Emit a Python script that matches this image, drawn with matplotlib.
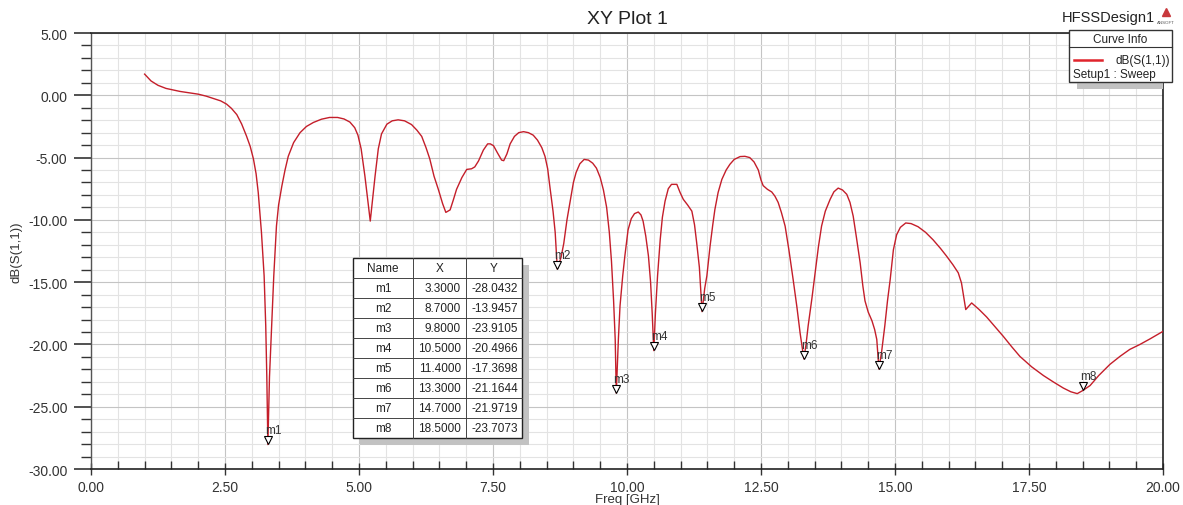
import numpy as np
import matplotlib
matplotlib.use("Agg")
import matplotlib.pyplot as plt
from matplotlib.patches import Rectangle
from matplotlib.ticker import MultipleLocator, FormatStrFormatter
import matplotlib.transforms as mtransforms

plt.rcParams['font.family'] = ['Liberation Sans', 'DejaVu Sans']

# dB(S(1,1))
freq = [1.00, 1.12, 1.25, 1.40, 1.66, 2.00, 2.15, 2.28, 2.42, 2.53, 2.62, 2.72, 2.81, 2.90,
        2.97, 3.03, 3.08, 3.12, 3.18, 3.23, 3.26, 3.28, 3.30, 3.33, 3.37, 3.41, 3.46, 3.50,
        3.56, 3.62, 3.68, 3.78, 3.90, 4.02, 4.15, 4.30, 4.45, 4.60, 4.72, 4.83, 4.92, 4.98,
        5.04, 5.11, 5.21, 5.30, 5.36, 5.42, 5.52, 5.62, 5.73, 5.85, 5.98, 6.08, 6.17, 6.25,
        6.32, 6.40, 6.48, 6.56, 6.62, 6.70, 6.76, 6.82, 6.92, 7.01, 7.10, 7.16, 7.23, 7.32,
        7.40, 7.45, 7.51, 7.58, 7.66, 7.70, 7.76, 7.82, 7.90, 7.98, 8.07, 8.16, 8.25, 8.33,
        8.41, 8.47, 8.52, 8.56, 8.62, 8.66, 8.70, 8.77, 8.82, 8.88, 8.94, 9.00, 9.05, 9.12,
        9.20, 9.28, 9.36, 9.43, 9.50, 9.56, 9.62, 9.67, 9.71, 9.75, 9.78, 9.80, 9.84, 9.87,
        9.92, 9.96, 10.02, 10.08, 10.14, 10.21, 10.26, 10.30, 10.35, 10.40, 10.44, 10.47,
        10.50, 10.53, 10.57, 10.62, 10.66, 10.71, 10.77, 10.83, 10.93, 10.99, 11.05, 11.13,
        11.21, 11.26, 11.30, 11.35, 11.40, 11.45, 11.49, 11.55, 11.60, 11.64, 11.70, 11.77,
        11.85, 11.92, 12.00, 12.11, 12.20, 12.29, 12.37, 12.45, 12.50, 12.54, 12.62, 12.70,
        12.76, 12.82, 12.88, 12.95, 13.02, 13.10, 13.17, 13.23, 13.30, 13.34, 13.38, 13.45,
        13.51, 13.57, 13.63, 13.70, 13.79, 13.86, 13.94, 14.02, 14.10, 14.16, 14.22, 14.28,
        14.35, 14.40, 14.44, 14.50, 14.57, 14.62, 14.66, 14.70, 14.75, 14.81, 14.86, 14.91,
        14.97, 15.03, 15.10, 15.20, 15.30, 15.43, 15.57, 15.71, 15.85, 15.96, 16.08, 16.18,
        16.24, 16.32, 16.43, 16.57, 16.71, 16.86, 17.02, 17.18, 17.33, 17.55, 17.77, 17.95,
        18.14, 18.28, 18.40, 18.50, 18.64, 18.80, 19.01, 19.20, 19.38, 19.57, 19.76, 20.00]
s11 = [1.70, 1.15, 0.80, 0.55, 0.31, 0.09, -0.07, -0.25, -0.45, -0.71, -1.05, -1.55, -2.30, -3.26,
       -4.10, -5.10, -6.30, -7.80, -11.00, -14.50, -18.50, -22.60, -28.04, -22.60, -18.50, -14.50,
       -10.50, -8.80, -7.30, -6.00, -4.90, -3.80, -3.00, -2.50, -2.18, -1.92, -1.78, -1.78, -1.90,
       -2.15, -2.60, -3.20, -4.30, -6.48, -10.10, -6.48, -4.30, -3.10, -2.32, -2.05, -1.97, -2.05,
       -2.35, -2.80, -3.30, -4.20, -5.10, -6.50, -7.55, -8.70, -9.40, -9.20, -8.40, -7.55, -6.60,
       -5.95, -5.90, -5.75, -5.27, -4.40, -3.90, -3.90, -4.05, -4.60, -5.20, -5.25, -4.70, -3.90,
       -3.30, -3.00, -2.92, -3.00, -3.20, -3.60, -4.20, -4.90, -5.90, -7.30, -9.30, -11.00, -13.95,
       -13.00, -11.90, -10.00, -8.50, -7.00, -6.20, -5.50, -5.15, -5.20, -5.45, -5.85, -6.60,
       -7.60, -9.00, -11.00, -13.30, -16.50, -19.60, -23.91, -19.50, -16.90, -14.50, -12.90,
       -10.80, -9.90, -9.50, -9.37, -9.60, -10.10, -11.30, -12.90, -15.00, -17.50, -20.50, -17.50,
       -14.50, -11.57, -9.80, -8.50, -7.50, -7.15, -7.15, -7.80, -8.35, -8.80, -9.30, -10.40,
       -11.84, -13.80, -17.37, -15.50, -14.50, -12.10, -10.40, -9.16, -7.80, -6.75, -6.00, -5.54,
       -5.15, -4.92, -4.90, -5.00, -5.35, -6.00, -6.80, -7.25, -7.55, -7.76, -8.10, -8.60, -9.40,
       -10.50, -12.40, -14.80, -17.00, -19.10, -21.16, -20.00, -18.50, -16.30, -14.25, -12.20,
       -10.50, -9.30, -8.35, -7.75, -7.45, -7.60, -7.95, -8.60, -9.70, -11.40, -13.45, -15.30,
       -16.50, -17.40, -18.10, -18.80, -19.60, -21.97, -20.60, -18.50, -16.50, -14.80, -12.40,
       -11.20, -10.60, -10.25, -10.30, -10.55, -11.00, -11.60, -12.30, -12.90, -13.60, -14.25,
       -15.06, -17.20, -16.67, -17.20, -17.80, -18.55, -19.35, -20.20, -20.96, -21.80, -22.50,
       -23.00, -23.50, -23.80, -23.95, -23.71, -23.30, -22.50, -21.60, -20.95, -20.40, -20.00,
       -19.55, -18.95]

marker_names = ['m1', 'm2', 'm3', 'm4', 'm5', 'm6', 'm7', 'm8']
marker_x = [3.3, 8.7, 9.8, 10.5, 11.4, 13.3, 14.7, 18.5]
marker_y = [-28.0432, -13.9457, -23.9105, -20.4966, -17.3698, -21.1644, -21.9719, -23.7073]

W, H = 1183, 506
fig = plt.figure(figsize=(W / 100, H / 100), dpi=100)
ax = fig.add_axes([91 / W, 1 - 470 / H, (1163 - 91) / W, (470 - 34) / H])

ax.plot(freq, s11, color='#c41e2a', lw=1.0, zorder=3)

# markers: tip of the triangle sits on the point
tri = mtransforms.offset_copy(ax.transData, fig=fig, y=3, units='points')
ax.plot(marker_x, marker_y, linestyle='none', marker='v', ms=6, mfc='white',
        mec='black', mew=0.8, transform=tri, zorder=4)
for name, mx, my in zip(marker_names, marker_x, marker_y):
    ax.annotate(name, (mx, my), xytext=(-2, 6), textcoords='offset points',
                fontsize=8.5, color='#333333', ha='left', va='bottom', zorder=5)

ax.set_xlim(0, 20)
ax.set_ylim(-30, 5)
ax.xaxis.set_major_locator(MultipleLocator(2.5))
ax.xaxis.set_minor_locator(MultipleLocator(0.5))
ax.yaxis.set_major_locator(MultipleLocator(5))
ax.yaxis.set_minor_locator(MultipleLocator(1))
ax.xaxis.set_major_formatter(FormatStrFormatter('%.2f'))
ax.yaxis.set_major_formatter(FormatStrFormatter('%.2f'))

ax.grid(which='major', color='#c4c4c4', lw=0.8)
ax.grid(which='minor', color='#e3e3e3', lw=0.8)
ax.set_axisbelow(True)

ax.tick_params(axis='y', which='major', direction='out', length=12, width=1.2,
               pad=5, labelsize=10, colors='#333333')
ax.tick_params(axis='y', which='minor', direction='out', length=7, width=1.0, color='#333333')
ax.tick_params(axis='x', which='major', direction='inout', length=8, width=1.0,
               pad=4, labelsize=10, colors='#333333')
ax.tick_params(axis='x', which='minor', direction='in', length=6, width=1.0, color='#333333')

for side in ['top', 'right', 'bottom']:
    ax.spines[side].set_color('#222222')
    ax.spines[side].set_linewidth(1.2)
ax.spines['left'].set_color('#555555')
ax.spines['left'].set_linewidth(1.0)

ax.set_title('XY Plot 1', fontsize=14, pad=7, color='#222222')
ax.set_xlabel('Freq [GHz]', fontsize=9.5, labelpad=-1, color='#333333')
ax.set_ylabel('dB(S(1,1))', fontsize=9.5, labelpad=4, color='#333333')

# overlay in pixel coordinates for header, legend and marker table
ov = fig.add_axes([0, 0, 1, 1], zorder=10)
ov.set_xlim(0, W)
ov.set_ylim(H, 0)
ov.axis('off')
ov.patch.set_alpha(0)

ov.text(1108, 18, 'HFSSDesign1', fontsize=10.5, ha='center', va='center', color='#222222')
ov.plot([1166], [13], marker='^', ms=6, color='#c8383c', linestyle='none')
ov.text(1166, 23, 'ANSOFT', fontsize=3.2, ha='center', va='center', color='#555555')

# Curve Info legend (shadow stops at the right border of the plot)
ov.add_patch(Rectangle((1077, 39), 86, 51, facecolor='#c2c2c2', edgecolor='none'))
ov.add_patch(Rectangle((1069, 31), 103, 52, facecolor='white', edgecolor='#333333', lw=1.0))
ov.plot([1069, 1172], [48, 48], color='#333333', lw=0.8)
ov.text(1120, 40, 'Curve Info', fontsize=8.5, ha='center', va='center', color='#222222')
ov.plot([1074, 1102], [61, 61], color='#e0242c', lw=1.8)
ov.text(1170, 61, 'dB(S(1,1))', fontsize=8.5, ha='right', va='center', color='#222222')
ov.text(1073, 75, 'Setup1 : Sweep', fontsize=8.5, ha='left', va='center', color='#222222')

# marker table
tx0, ty0, row_h = 353, 259, 20
col_edges = [353, 413, 466, 522]
n_rows = len(marker_names) + 1
ov.add_patch(Rectangle((tx0 + 7, ty0 + 7), col_edges[-1] - tx0, n_rows * row_h,
                       facecolor='#c2c2c2', edgecolor='none'))
ov.add_patch(Rectangle((tx0, ty0), col_edges[-1] - tx0, n_rows * row_h,
                       facecolor='white', edgecolor='#222222', lw=1.0))
for i in range(1, n_rows):
    ov.plot([col_edges[0], col_edges[-1]], [ty0 + i * row_h] * 2, color='#444444', lw=0.7)
for cx in col_edges[1:-1]:
    ov.plot([cx, cx], [ty0, ty0 + n_rows * row_h], color='#444444', lw=0.7)

rows = [('Name', 'X', 'Y')] + [(n, f'{x:.4f}', f'{y:.4f}')
                               for n, x, y in zip(marker_names, marker_x, marker_y)]
for i, (c0, c1, c2) in enumerate(rows):
    yc = ty0 + (i + 0.5) * row_h
    ov.text((col_edges[0] + col_edges[1]) / 2, yc, c0, fontsize=8.5, ha='center',
            va='center', color='#222222')
    if i == 0:
        ov.text((col_edges[1] + col_edges[2]) / 2, yc, c1, fontsize=8.5, ha='center',
                va='center', color='#222222')
        ov.text((col_edges[2] + col_edges[3]) / 2, yc, c2, fontsize=8.5, ha='center',
                va='center', color='#222222')
    else:
        ov.text(col_edges[2] - 5, yc, c1, fontsize=8.5, ha='right', va='center', color='#222222')
        ov.text(col_edges[3] - 4, yc, c2, fontsize=8.5, ha='right', va='center', color='#222222')

fig.savefig('out.png', dpi=100)
